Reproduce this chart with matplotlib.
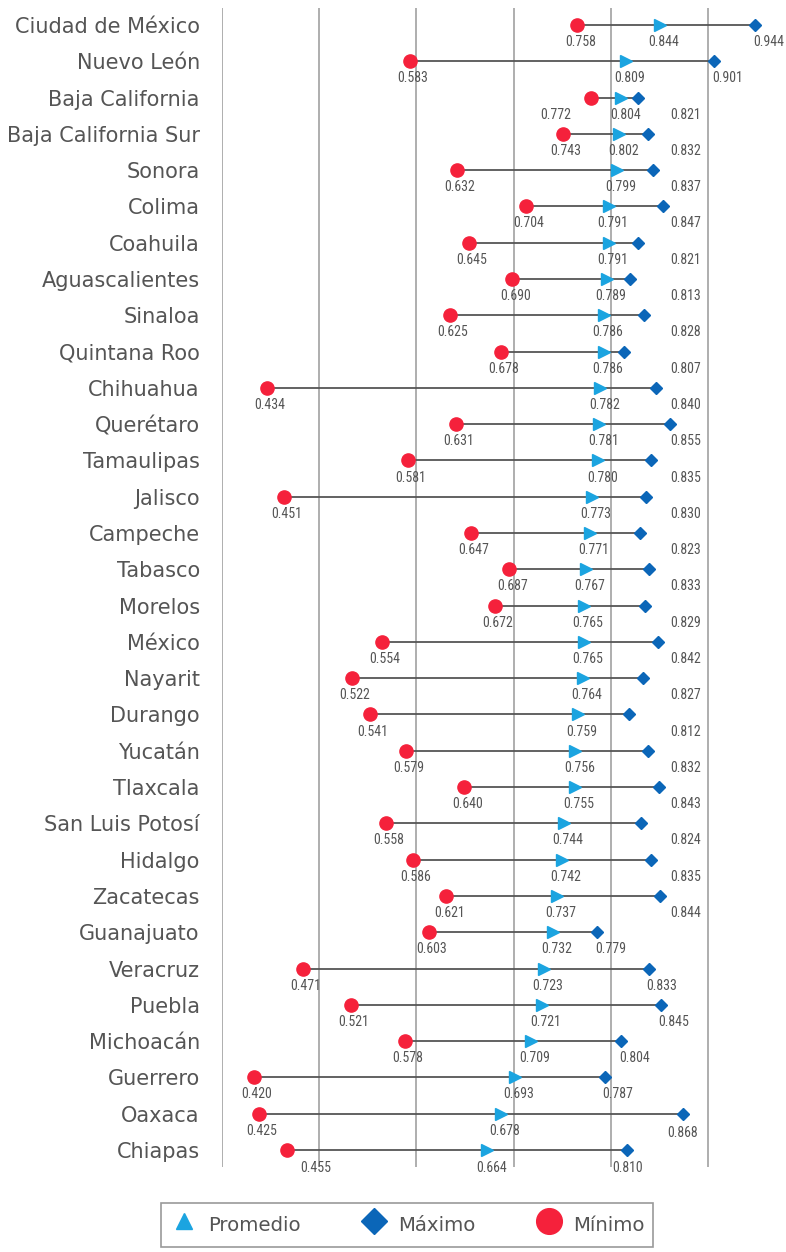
import matplotlib.pyplot as plt
from matplotlib.lines import Line2D
import numpy as np

estados = ['Ciudad de México', 'Nuevo León', 'Baja California', 'Baja California Sur',
           'Sonora', 'Colima', 'Coahuila', 'Aguascalientes', 'Sinaloa', 'Quintana Roo',
           'Chihuahua', 'Querétaro', 'Tamaulipas', 'Jalisco', 'Campeche', 'Tabasco',
           'Morelos', 'México', 'Nayarit', 'Durango', 'Yucatán', 'Tlaxcala',
           'San Luis Potosí', 'Hidalgo', 'Zacatecas', 'Guanajuato', 'Veracruz', 'Puebla',
           'Michoacán', 'Guerrero', 'Oaxaca', 'Chiapas']
promedio = [0.844, 0.809, 0.804, 0.802, 0.799, 0.791, 0.791, 0.789, 0.786, 0.786, 0.782,
            0.781, 0.780, 0.773, 0.771, 0.767, 0.765, 0.765, 0.764, 0.759, 0.756, 0.755,
            0.744, 0.742, 0.737, 0.732, 0.723, 0.721, 0.709, 0.693, 0.678, 0.664]
maximo = [0.944, 0.901, 0.821, 0.832, 0.837, 0.847, 0.821, 0.813, 0.828, 0.807, 0.840,
          0.855, 0.835, 0.830, 0.823, 0.833, 0.829, 0.842, 0.827, 0.812, 0.832, 0.843,
          0.824, 0.835, 0.844, 0.779, 0.833, 0.845, 0.804, 0.787, 0.868, 0.810]
minimo = [0.758, 0.583, 0.772, 0.743, 0.632, 0.704, 0.645, 0.690, 0.625, 0.678, 0.434,
          0.631, 0.581, 0.451, 0.647, 0.687, 0.672, 0.554, 0.522, 0.541, 0.579, 0.640,
          0.558, 0.586, 0.621, 0.603, 0.471, 0.521, 0.578, 0.420, 0.425, 0.455]

c_min = '#f5213b'
c_prom = '#1ba4e0'
c_max = '#0b66b8'
c_txt = '#555555'
fuente_txt = ['DejaVu Sans']
fuente_num = ['Roboto Condensed', 'DejaVu Sans']

fig = plt.figure(figsize=(7.86, 12.52), dpi=100)
ax = fig.add_axes([222 / 786, 1 - 1167 / 1252, 564 / 786, 1159 / 1252])

y = np.arange(len(estados))
ax.set_xlim(0.3866, 0.976)
ax.set_ylim(31.47, -0.4685)

# lineas verticales de fondo
for gx in np.linspace(0.3866, 0.8945, 6):
    ax.axvline(gx, color='#a8a8a8', lw=1.3, zorder=0)

ax.hlines(y, minimo, maximo, color='#555555', lw=1.3, zorder=1)
ax.plot(minimo, y, 'o', color=c_min, ms=9.5, zorder=3)
ax.plot(promedio, y, '>', color=c_prom, ms=8.5, zorder=3)
ax.plot(maximo, y, 'D', color=c_max, ms=6.3, zorder=3)

# etiquetas de valores
ajuste_min = {'Baja California': -0.04, 'Chiapas': 0.027}
ajuste_max = {'Oaxaca': -0.014, 'Chiapas': -0.013}
num_kw = dict(ha='center', va='center', color=c_txt, fontsize=10, family=fuente_num)
for i, e in enumerate(estados):
    dy = 0.47 if e != 'Chiapas' else 0.5
    ax.text(minimo[i] + 0.003 + ajuste_min.get(e, 0), i + dy, f'{minimo[i]:.3f}', **num_kw)
    ax.text(promedio[i] + 0.004, i + dy, f'{promedio[i]:.3f}', **num_kw)
    if 2 <= i <= 24:
        xm = 0.8715
    else:
        xm = maximo[i] + 0.0135 + ajuste_max.get(e, 0)
    dym = dy + (0.05 if e == 'Oaxaca' else 0)
    ax.text(xm, i + dym, f'{maximo[i]:.3f}', clip_on=False, **num_kw)

ax.set_yticks(y)
ax.set_yticklabels(estados, fontsize=15, color=c_txt, family=fuente_txt)
ax.tick_params(axis='y', length=0, pad=16)
ax.set_xticks([])
for s in ax.spines.values():
    s.set_visible(False)

handles = [
    Line2D([], [], marker='^', color=c_prom, ls='none', ms=11.5),
    Line2D([], [], marker='D', color=c_max, ls='none', ms=13),
    Line2D([], [], marker='o', color=c_min, ls='none', ms=18.5),
]
leg = fig.legend(handles, ['Promedio', 'Máximo', 'Mínimo'], ncol=3,
                 loc='upper left', bbox_to_anchor=(161 / 786, 1 - 1203 / 1252),
                 borderaxespad=0, prop={'family': fuente_txt, 'size': 14.2},
                 frameon=True, fancybox=False, edgecolor='#808080',
                 handlelength=1.5, handleheight=1.85, handletextpad=0.5,
                 columnspacing=2.95, borderpad=0.4)
leg.get_frame().set_linewidth(1.2)
for t in leg.get_texts():
    t.set_color(c_txt)

fig.savefig('out.png', dpi=100)
